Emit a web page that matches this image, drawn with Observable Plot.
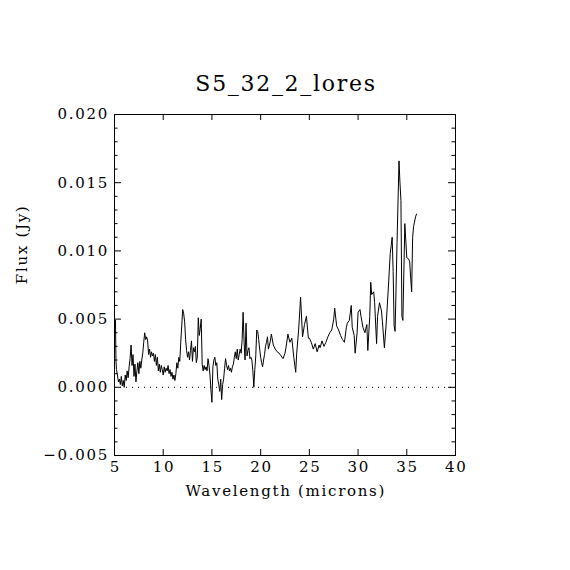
<!DOCTYPE html>
<html>
<head>
<meta charset="utf-8">
<script src="https://cdn.jsdelivr.net/npm/d3@7"></script>
<script src="https://cdn.jsdelivr.net/npm/@observablehq/plot@0.6"></script>
<style>
  html, body { margin: 0; padding: 0; background: #fff; }
  #chart svg { display: block; }
</style>
</head>
<body>
<div id="chart"></div>
<script>
const title = "S5_32_2_lores";
const xLabel = "Wavelength (microns)";
const yLabel = "Flux (Jy)";

const wavelength = [
  5.10, 5.15, 5.20, 5.30, 5.40, 5.50, 5.60, 5.70, 5.80, 5.90,
  6.00, 6.10, 6.20, 6.30, 6.40, 6.50, 6.60, 6.70, 6.80, 6.90,
  7.00, 7.10, 7.20, 7.30, 7.40, 7.50, 7.60, 7.70, 7.80, 7.90,
  8.00, 8.10, 8.20, 8.30, 8.40, 8.50, 8.60, 8.70, 8.80, 8.90,
  9.00, 9.10, 9.20, 9.30, 9.40, 9.50, 9.60, 9.70, 9.80, 9.90,
  10.0, 10.1, 10.2, 10.3, 10.4, 10.5, 10.6, 10.7, 10.8, 10.9,
  11.0, 11.1, 11.2, 11.3, 11.4, 11.5, 11.6, 11.7, 11.8, 11.9,
  12.0, 12.1, 12.2, 12.3, 12.4, 12.5, 12.6, 12.7, 12.8, 12.9,
  13.0, 13.1, 13.2, 13.3, 13.4, 13.5, 13.6, 13.7, 13.8, 13.9,
  14.0, 14.1, 14.2, 14.3, 14.4, 14.5, 14.6, 14.7, 14.8, 14.9,
  15.0, 15.1, 15.2, 15.3, 15.4, 15.5, 15.6, 15.7, 15.8, 15.9,
  16.0, 16.1, 16.2, 16.3, 16.4, 16.5, 16.6, 16.7, 16.8, 16.9,
  17.0, 17.1, 17.2, 17.3, 17.4, 17.5, 17.6, 17.7, 17.8, 17.9,
  18.0, 18.1, 18.2, 18.3, 18.4, 18.5, 18.6, 18.7, 18.8, 18.9,
  19.0, 19.1, 19.2, 19.3, 19.4, 19.5, 19.6, 19.7, 19.8, 19.9,
  20.0, 20.1, 20.2, 20.3, 20.4, 20.5, 20.6, 20.7, 20.8, 20.9,
  21.0, 21.1, 21.3, 21.5, 21.7, 21.9, 22.1, 22.3, 22.5, 22.6,
  22.8, 23.0, 23.2, 23.4, 23.6, 23.7, 23.9, 24.1, 24.3, 24.5,
  24.7, 24.9, 25.0, 25.2, 25.4, 25.6, 25.8, 26.0, 26.1, 26.3,
  26.5, 26.7, 26.9, 27.1, 27.3, 27.5, 27.6, 27.8, 28.0, 28.2,
  28.4, 28.6, 28.8, 28.9, 29.1, 29.3, 29.4, 29.6, 29.7, 29.9,
  30.0, 30.2, 30.3, 30.5, 30.7, 30.9, 31.0, 31.2, 31.3, 31.4,
  31.6, 31.7, 31.9, 32.0, 32.2, 32.4, 32.5, 32.7, 32.9, 33.1,
  33.3, 33.4, 33.5, 33.6, 33.7, 33.8, 34.0, 34.2, 34.3, 34.4,
  34.5, 34.6, 34.8, 35.0, 35.2, 35.3, 35.4, 35.5, 35.6, 35.7,
  35.9, 36.0
];

const flux = [
  0.0049, 0.0020, 0.0013, 0.0009, 0.0004, 0.0006, 0.0002, 0.0008, 0.0001, 0.0005,
  0.0000, 0.0009, 0.0005, 0.0012, 0.0007, 0.0015, 0.0021, 0.0031, 0.0016, 0.0024,
  0.0008, 0.0017, 0.0004, 0.0012, 0.0018, 0.0010, 0.0019, 0.0014, 0.0020, 0.0025,
  0.0033, 0.0040, 0.0035, 0.0037, 0.0034, 0.0024, 0.0028, 0.0022, 0.0026, 0.0023,
  0.0025, 0.0019, 0.0024, 0.0016, 0.0022, 0.0012, 0.0017, 0.0011, 0.0016, 0.0013,
  0.0009, 0.0015, 0.0011, 0.0014, 0.0012, 0.0016, 0.0010, 0.0013, 0.0008, 0.0011,
  0.0006, 0.0009, 0.0005, 0.0010, 0.0018, 0.0014, 0.0022, 0.0019, 0.0033, 0.0045,
  0.0057, 0.0054, 0.0048, 0.0035, 0.0027, 0.0022, 0.0026, 0.0020, 0.0027, 0.0034,
  0.0019, 0.0029, 0.0026, 0.0030, 0.0018, 0.0022, 0.0051, 0.0038, 0.0043, 0.0050,
  0.0017, 0.0012, 0.0016, 0.0013, 0.0015, 0.0012, 0.0021, 0.0016, 0.0009, -0.0002,
  -0.0011, 0.0015, 0.0020, 0.0022, 0.0016, 0.0018, 0.0006, 0.0002, -0.0003, 0.0006,
  -0.0009, 0.0002, 0.0006, 0.0014, 0.0021, 0.0016, 0.0013, 0.0016, 0.0012, 0.0014,
  0.0011, 0.0015, 0.0017, 0.0022, 0.0026, 0.0021, 0.0028, 0.0020, 0.0024, 0.0028,
  0.0025, 0.0035, 0.0055, 0.0033, 0.0020, 0.0047, 0.0023, 0.0027, 0.0029, 0.0021,
  0.0022, 0.0020, 0.0012, 0.0000, 0.0013, 0.0023, 0.0042, 0.0041, 0.0035, 0.0028,
  0.0022, 0.0018, 0.0015, 0.0020, 0.0024, 0.0030, 0.0033, 0.0037, 0.0028, 0.0031,
  0.0034, 0.0039, 0.0031, 0.0028, 0.0026, 0.0025, 0.0023, 0.0021, 0.0025, 0.0029,
  0.0039, 0.0033, 0.0036, 0.0022, 0.0011, 0.0025, 0.0042, 0.0066, 0.0037, 0.0046,
  0.0052, 0.0036, 0.0036, 0.0033, 0.0028, 0.0032, 0.0026, 0.0031, 0.0029, 0.0034,
  0.0030, 0.0033, 0.0037, 0.0040, 0.0042, 0.0050, 0.0058, 0.0045, 0.0042, 0.0038,
  0.0035, 0.0033, 0.0044, 0.0047, 0.0049, 0.0060, 0.0044, 0.0038, 0.0025, 0.0040,
  0.0055, 0.0057, 0.0052, 0.0044, 0.0040, 0.0046, 0.0027, 0.0052, 0.0077, 0.0068,
  0.0070, 0.0062, 0.0032, 0.0052, 0.0062, 0.0056, 0.0048, 0.0029, 0.0048, 0.0072,
  0.0098, 0.0104, 0.0110, 0.0085, 0.0045, 0.0041, 0.0106, 0.0166, 0.0150, 0.0137,
  0.0052, 0.0049, 0.0120, 0.0095, 0.0094, 0.0092, 0.0080, 0.0070, 0.0110, 0.0118,
  0.0125, 0.0127
];

const xDomain = [5, 40];
const yDomain = [-0.005, 0.020];
const xMajorTicks = [5, 10, 15, 20, 25, 30, 35, 40];
const yMajorTicks = [-0.005, 0.000, 0.005, 0.010, 0.015, 0.020];
const yMinorTicks = d3.range(-50, 201, 10).map(v => v / 10000).filter(v => !yMajorTicks.some(m => Math.abs(m - v) < 1e-9));
const zeroLine = [0];

const data = wavelength.map((w, i) => ({w, f: flux[i]}));

const font = "'DejaVu Serif', 'Liberation Serif', serif";

const chart = Plot.plot({
  width: 570,
  height: 570,
  marginLeft: 114,
  marginRight: 115,
  marginTop: 114,
  marginBottom: 115,
  style: {fontFamily: font, fontSize: "15px", color: "#000", background: "#fff", letterSpacing: "1.7px"},
  x: {domain: xDomain},
  y: {domain: yDomain},
  marks: [
    Plot.ruleY(zeroLine, {stroke: "#000", strokeWidth: 1, strokeDasharray: "1,5"}),
    Plot.line(data, {x: "w", y: "f", stroke: "#000", strokeWidth: 1}),
    Plot.frame({stroke: "#000", strokeWidth: 1}),
    // x ticks (inward), bottom and top
    Plot.ruleX(xMajorTicks, {x: d => d, y1: yDomain[0], y2: yDomain[0], insetTop: -6, stroke: "#000"}),
    Plot.ruleX(xMajorTicks, {x: d => d, y1: yDomain[1], y2: yDomain[1], insetBottom: -6, stroke: "#000"}),
    // y ticks (inward), left and right
    Plot.ruleY(yMajorTicks, {y: d => d, x1: xDomain[0], x2: xDomain[0], insetRight: -7, stroke: "#000"}),
    Plot.ruleY(yMajorTicks, {y: d => d, x1: xDomain[1], x2: xDomain[1], insetLeft: -7, stroke: "#000"}),
    Plot.ruleY(yMinorTicks, {y: d => d, x1: xDomain[0], x2: xDomain[0], insetRight: -3.5, stroke: "#000"}),
    Plot.ruleY(yMinorTicks, {y: d => d, x1: xDomain[1], x2: xDomain[1], insetLeft: -3.5, stroke: "#000"}),
    Plot.axisX(xMajorTicks, {anchor: "bottom", tickSize: 0, tickPadding: 6, label: null, tickFormat: d3.format("d"), fontSize: 15, dx: 0.8}),
    Plot.axisY(yMajorTicks, {anchor: "left", tickSize: 0, tickPadding: 5.5, label: null, tickFormat: d3.format(".3f"), fontSize: 15}),
    Plot.text([title], {text: d => d, frameAnchor: "top", dy: -31, dx: 1, fontSize: 22, lineAnchor: "middle"}),
    Plot.text([xLabel], {text: d => d, frameAnchor: "bottom", dy: 36, dx: 0.8, fontSize: 15, lineAnchor: "middle"}),
    Plot.text([yLabel], {text: d => d, frameAnchor: "left", dx: -92, dy: -0.8, rotate: -90, fontSize: 15, lineAnchor: "middle"})
  ]
});

document.getElementById("chart").appendChild(chart);
</script>
</body>
</html>
